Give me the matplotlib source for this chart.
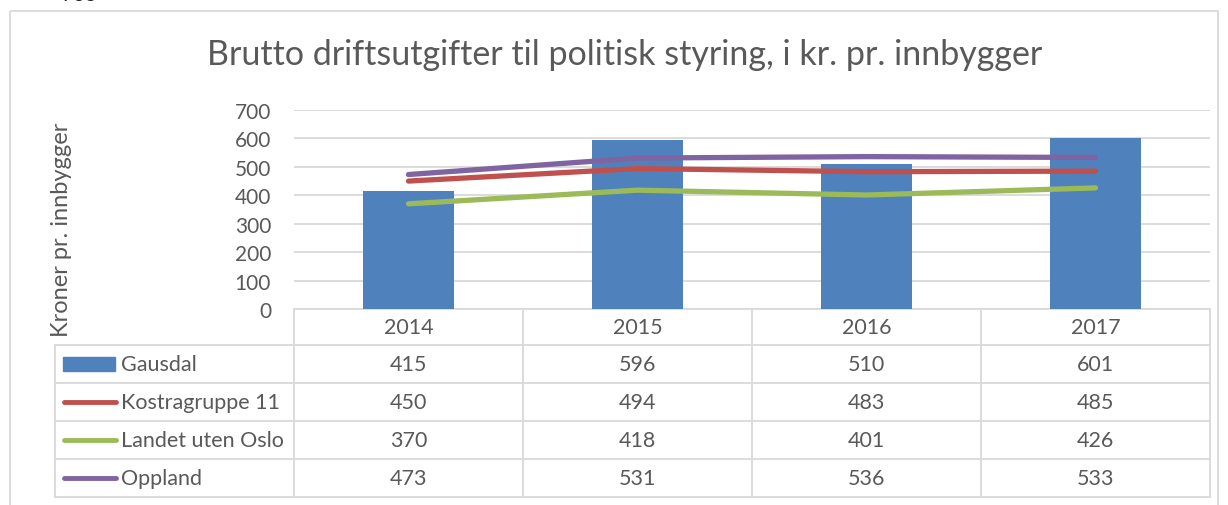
import matplotlib.pyplot as plt
from matplotlib.patches import Rectangle
from matplotlib.lines import Line2D

years = ["2014", "2015", "2016", "2017"]
gausdal = [415, 596, 510, 601]
kostra11 = [450, 494, 483, 485]
landet = [370, 418, 401, 426]
oppland = [473, 531, 536, 533]
series_names = ["Gausdal", "Kostragruppe 11", "Landet uten Oslo", "Oppland"]

plt.rcParams['font.family'] = ['Lato', 'DejaVu Sans']
W, H = 1228, 506
txt = '#595959'
grid = '#D9D9D9'
c_bar, c_red, c_green, c_purple = '#4F81BD', '#C0504D', '#9BBB59', '#8064A2'

fig = plt.figure(figsize=(W / 100, H / 100), dpi=100)

# overlay in pixel coordinates for frame, table, labels
ov = fig.add_axes([0, 0, 1, 1], zorder=0)
ov.set_xlim(0, W)
ov.set_ylim(H, 0)
ov.axis('off')

# plot area
pl, pr, pt, pb = 294, 1210, 111, 310
ax = fig.add_axes([pl / W, (H - pb) / H, (pr - pl) / W, (pb - pt) / H], zorder=1)
ax.patch.set_alpha(0)
x = range(len(years))
ax.bar(x, gausdal, width=0.4, color=c_bar, zorder=2)
ax.plot(x, kostra11, color=c_red, lw=3.8, solid_capstyle='round', zorder=3)
ax.plot(x, landet, color=c_green, lw=3.8, solid_capstyle='round', zorder=3)
ax.plot(x, oppland, color=c_purple, lw=3.8, solid_capstyle='round', zorder=3)
ax.set_xlim(-0.5, len(years) - 0.5)
ax.set_ylim(0, 700)
ax.set_yticks(range(0, 701, 100))
ax.yaxis.grid(True, color=grid, lw=1.3, zorder=0)
ax.set_xticks([])
for s in ax.spines.values():
    s.set_visible(False)
ax.tick_params(axis='y', length=0, pad=16.5, labelsize=15, labelcolor=txt)

# outer chart frame
ov.add_patch(Rectangle((10, 12), 1208, 520, fill=False, ec=grid, lw=1.3))
ov.text(80, -5, "735", ha='center', va='center', fontsize=15, color='#222222')

ov.text(625, 55, "Brutto driftsutgifter til politisk styring, i kr. pr. innbygger",
        ha='center', va='center', fontsize=24.5, color=txt)
ov.text(62, 230, "Kroner pr. innbygger", rotation=90, ha='center', va='center',
        fontsize=17, color=txt)

# data table
col_w = (pr - pl) / len(years)
row_top = [pb, 346, 384, 422, 460]
row_bot = 498
lc = dict(color=grid, lw=1.3)
ov.plot([pl, pr], [pb, pb], **lc)
ov.plot([55, pr], [346, 346], **lc)
for y in row_top[2:] + [row_bot]:
    ov.plot([55, pr], [y, y], **lc)
ov.plot([55, 55], [346, row_bot], **lc)
for i in range(len(years) + 1):
    ov.plot([pl + i * col_w] * 2, [pb, row_bot], **lc)

for i, yr in enumerate(years):
    ov.text(pl + (i + 0.5) * col_w, (row_top[0] + row_top[1]) / 2, yr,
            ha='center', va='center', fontsize=15.5, color=txt)

table_rows = [gausdal, kostra11, landet, oppland]
keys = [c_bar, c_red, c_green, c_purple]
for r, (name, vals, col) in enumerate(zip(series_names, table_rows, keys)):
    top = row_top[r + 1]
    bot = row_top[r + 2] if r + 2 < len(row_top) else row_bot
    yc = (top + bot) / 2
    if r == 0:
        ov.add_patch(Rectangle((63, yc - 7), 52, 14, color=col))
    else:
        ov.add_line(Line2D([64, 116], [yc, yc], color=col, lw=3.5, solid_capstyle='round'))
    ov.text(121, yc, name, ha='left', va='center', fontsize=15.5, color=txt)
    for i, v in enumerate(vals):
        ov.text(pl + (i + 0.5) * col_w, yc, str(v), ha='center', va='center',
                fontsize=15.5, color=txt)

fig.savefig('out.png', dpi=100)
